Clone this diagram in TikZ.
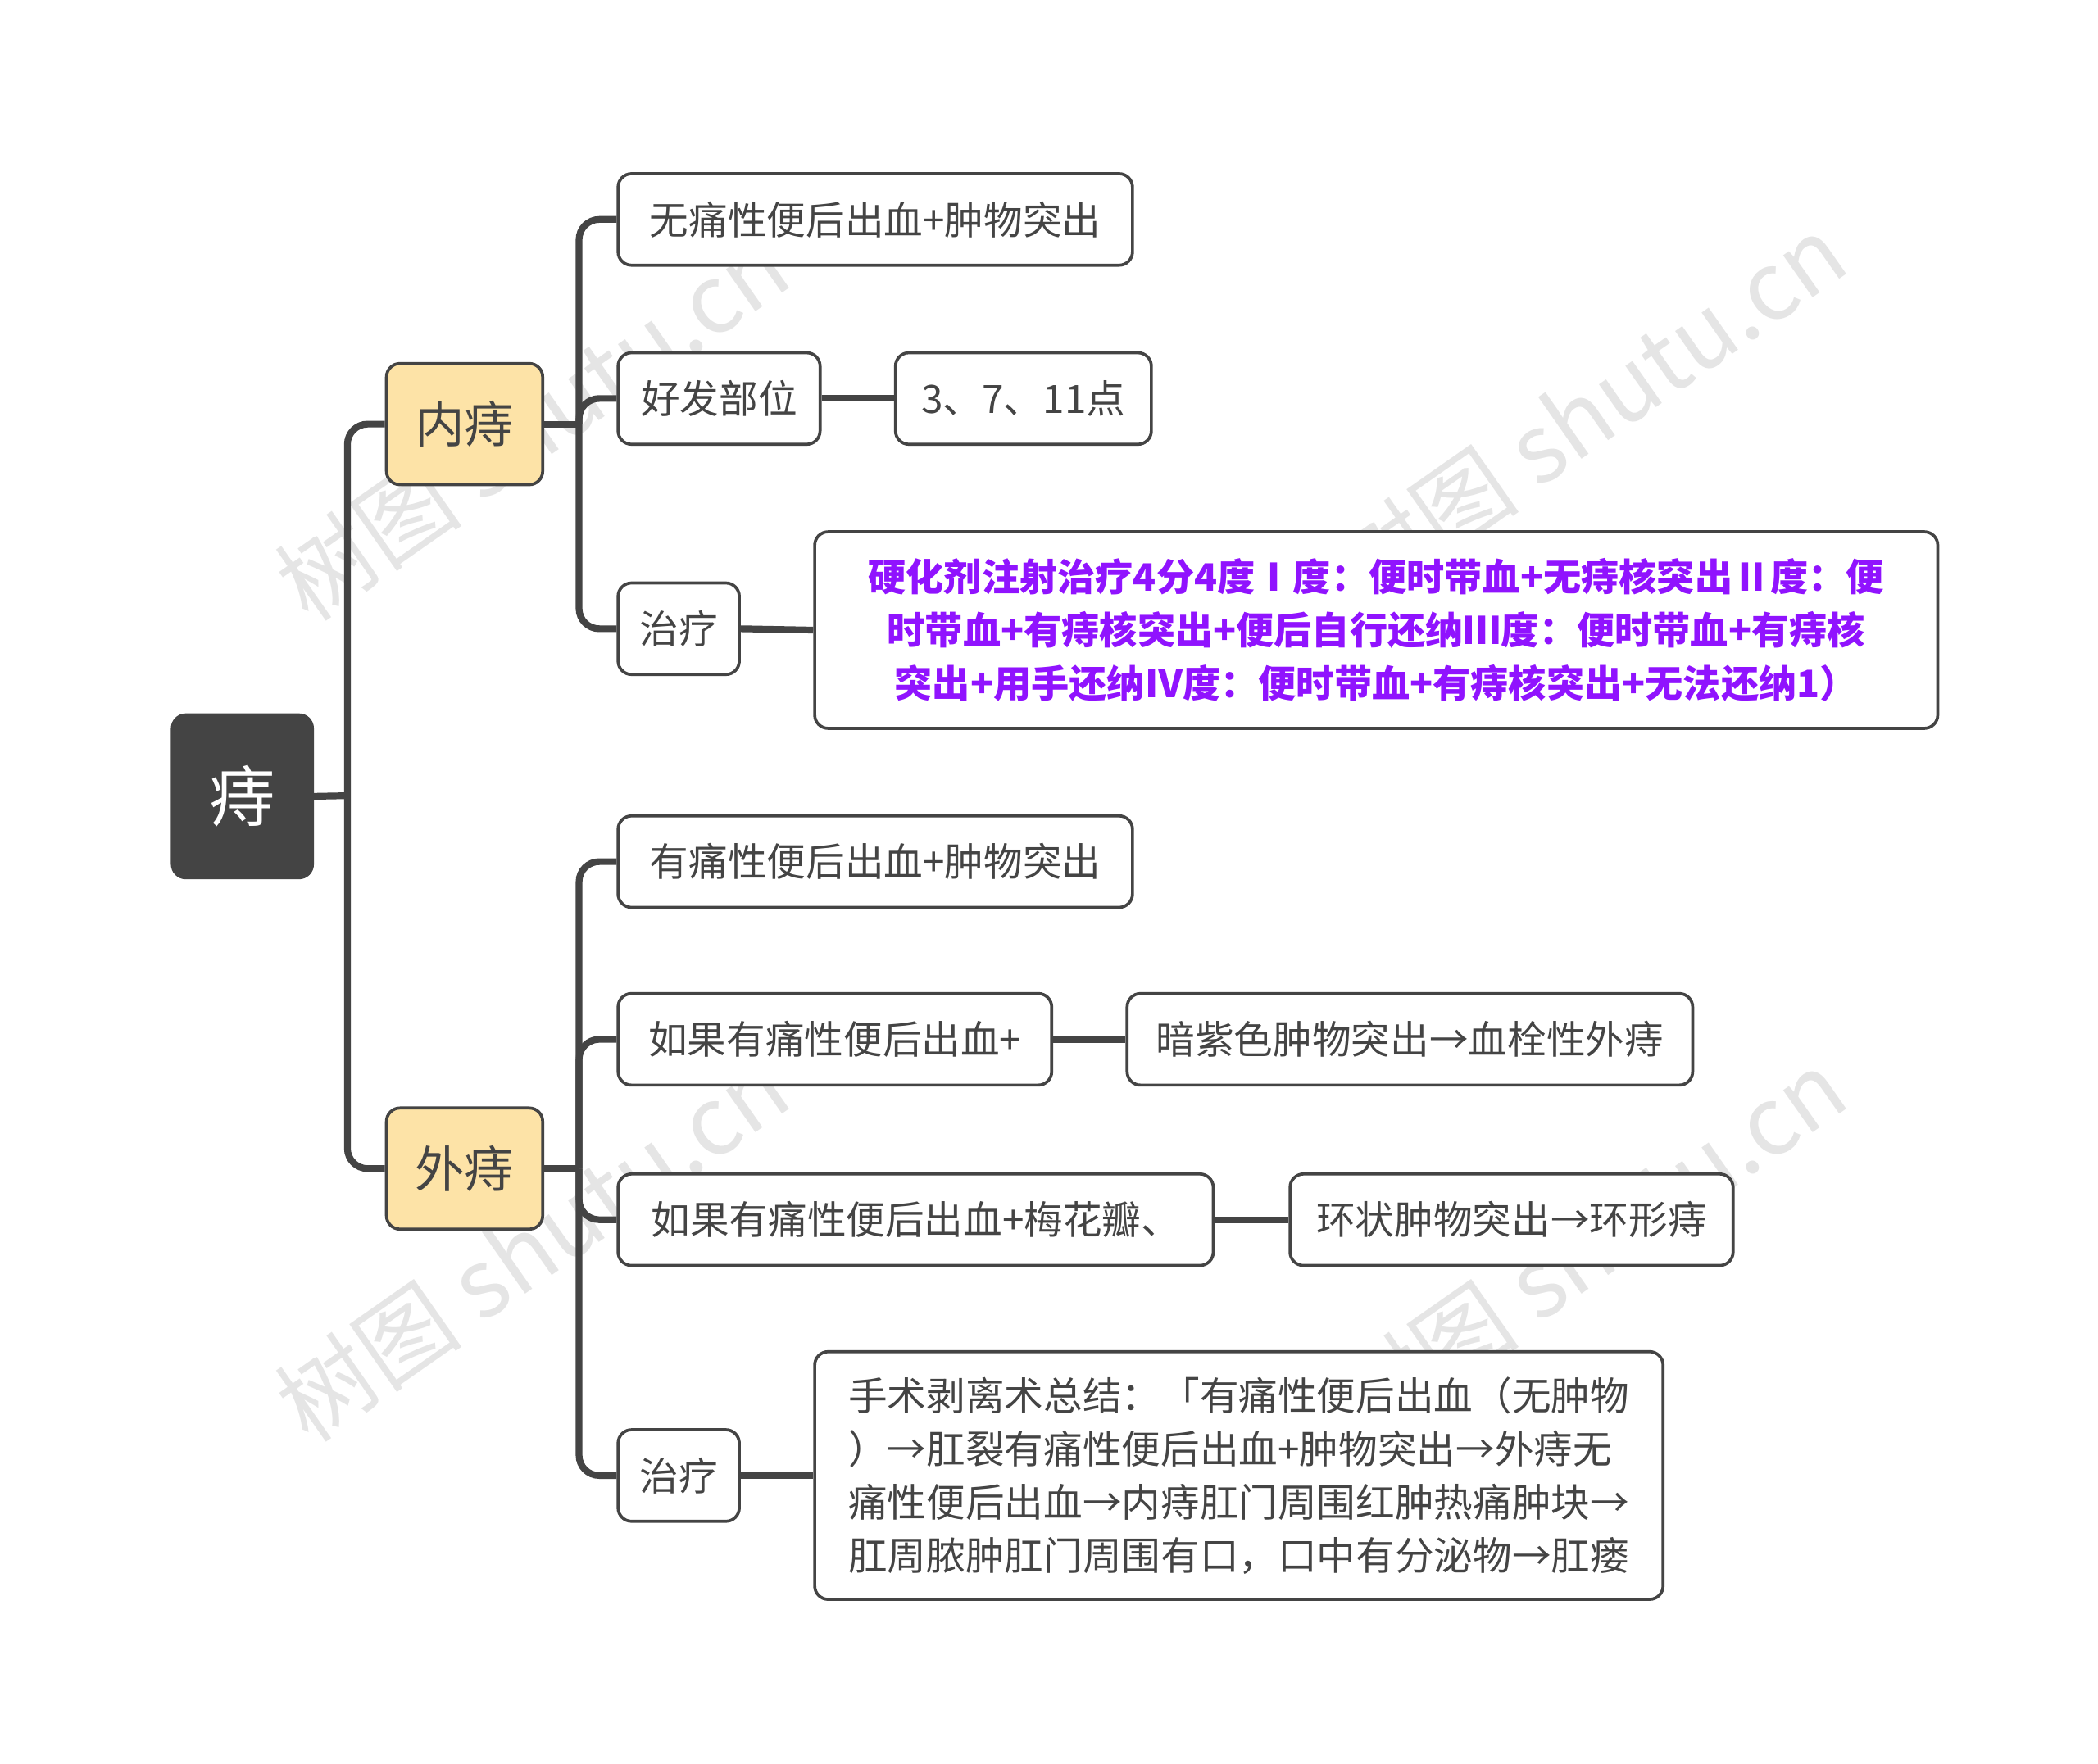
\documentclass[tikz,border=0pt]{standalone}
\usepackage{fontspec}
\setmainfont{Noto Sans CJK SC}
\definecolor{dk}{HTML}{444444}
\definecolor{yl}{HTML}{FDE3A7}
\definecolor{pp}{HTML}{9013FE}
\newcommand\bx[7][]{\node[box,#1,minimum width={(#5-#3)*0.2mm},minimum height={(#6-#4)*0.2mm}] (#2) at ({(#3+#5)/2},{(#4+#6)/2}) {#7};}
\begin{document}
\begin{tikzpicture}[x=0.2mm,y=-0.2mm,
 box/.style={draw=dk,line width=0.45mm,rounded corners=2mm,fill=white,inner sep=0pt,align=center,font=\fontsize{16.5}{21}\selectfont,text=dk},
 ln/.style={draw=dk,line width=1mm,rounded corners=3mm},
 st/.style={draw=dk,line width=1mm},
 wm/.style={text=black!10,rotate=35,font=\fontsize{40}{40}\selectfont}]
\useasboundingbox (0,0) rectangle (1558,1310);
\fill[white] (0,0) rectangle (1558,1310);
\foreach \x/\y in {395/315,1180/305,395/925,1180/925}
 \node[wm] (w\x\y) at (\x,\y) {树图 shutu.cn};
\bx[fill=dk,text=white,draw=dk,font=\fontsize{28}{30}\selectfont]{r}{128}{531}{232}{652}{痔}
\bx[fill=yl,font=\fontsize{21}{24}\selectfont]{a}{287}{270}{403}{360}{内痔}
\bx[fill=yl,font=\fontsize{21}{24}\selectfont]{b}{287}{823}{403}{913}{外痔}
\bx{a1}{459}{129}{841}{197}{无痛性便后出血+肿物突出}
\bx{a2}{459}{262}{609}{330}{好发部位}
\bx{a2x}{665}{262}{855}{330}{3、7、11点}
\bx{a3}{459}{433}{549}{501}{治疗}
\bx[text=pp,font=\bfseries\fontsize{16}{22.5}\selectfont]{a3x}{605}{395}{1439}{541}{硬化剂注射治疗4分4度Ⅰ度：便时带血+无痔核突出Ⅱ度：便\\时带血+有痔核突出+便后自行还纳Ⅲ度：便时带血+有痔核\\突出+用手还纳Ⅳ度：便时带血+有痔核突出+无法还纳1）}
\bx{b1}{459}{606}{841}{674}{有痛性便后出血+肿物突出}
\bx{b2}{459}{738}{781}{806}{如果有痛性便后出血+}
\bx{b2x}{837}{738}{1257}{806}{暗紫色肿物突出→血栓性外痔}
\bx{b3}{459}{872}{901}{940}{如果有痛性便后出血+梅花瓣、}
\bx{b3x}{958}{872}{1287}{940}{环状肿物突出→环形痔}
\bx{b4}{459}{1062}{549}{1130}{治疗}
\bx[align=left,font=\fontsize{16.5}{22.5}\selectfont]{b4x}{605}{1004}{1235}{1188}{手术剥离术总结：「有痛性便后出血（无肿物\\）→肛裂有痛性便后出血+肿物突出→外痔无\\痛性便后出血→内痔肛门周围红肿热痛肿块→\\肛周脓肿肛门周围有口，口中有分泌物→肛瘘}
\coordinate (rj) at (258,591);
\coordinate (aj) at (430,315);
\coordinate (bj) at (430,868);
\draw[st] (r.east) -- (rj);
\draw[ln] (rj) |- (a.west);
\draw[ln] (rj) |- (b.west);
\draw[st] (a.east) -- (aj);
\draw[st] (b.east) -- (bj);
\foreach \c in {a1,a2,a3} \draw[ln] (aj) |- (\c.west);
\foreach \c in {b1,b2,b3,b4} \draw[ln] (bj) |- (\c.west);
\draw[st] (a2.east) -- (a2x.west);
\draw[st] (a3.east) -- (a3x.west);
\draw[st] (b2.east) -- (b2x.west);
\draw[st] (b3.east) -- (b3x.west);
\draw[st] (b4.east) -- (b4x.west);
\end{tikzpicture}
\end{document}
